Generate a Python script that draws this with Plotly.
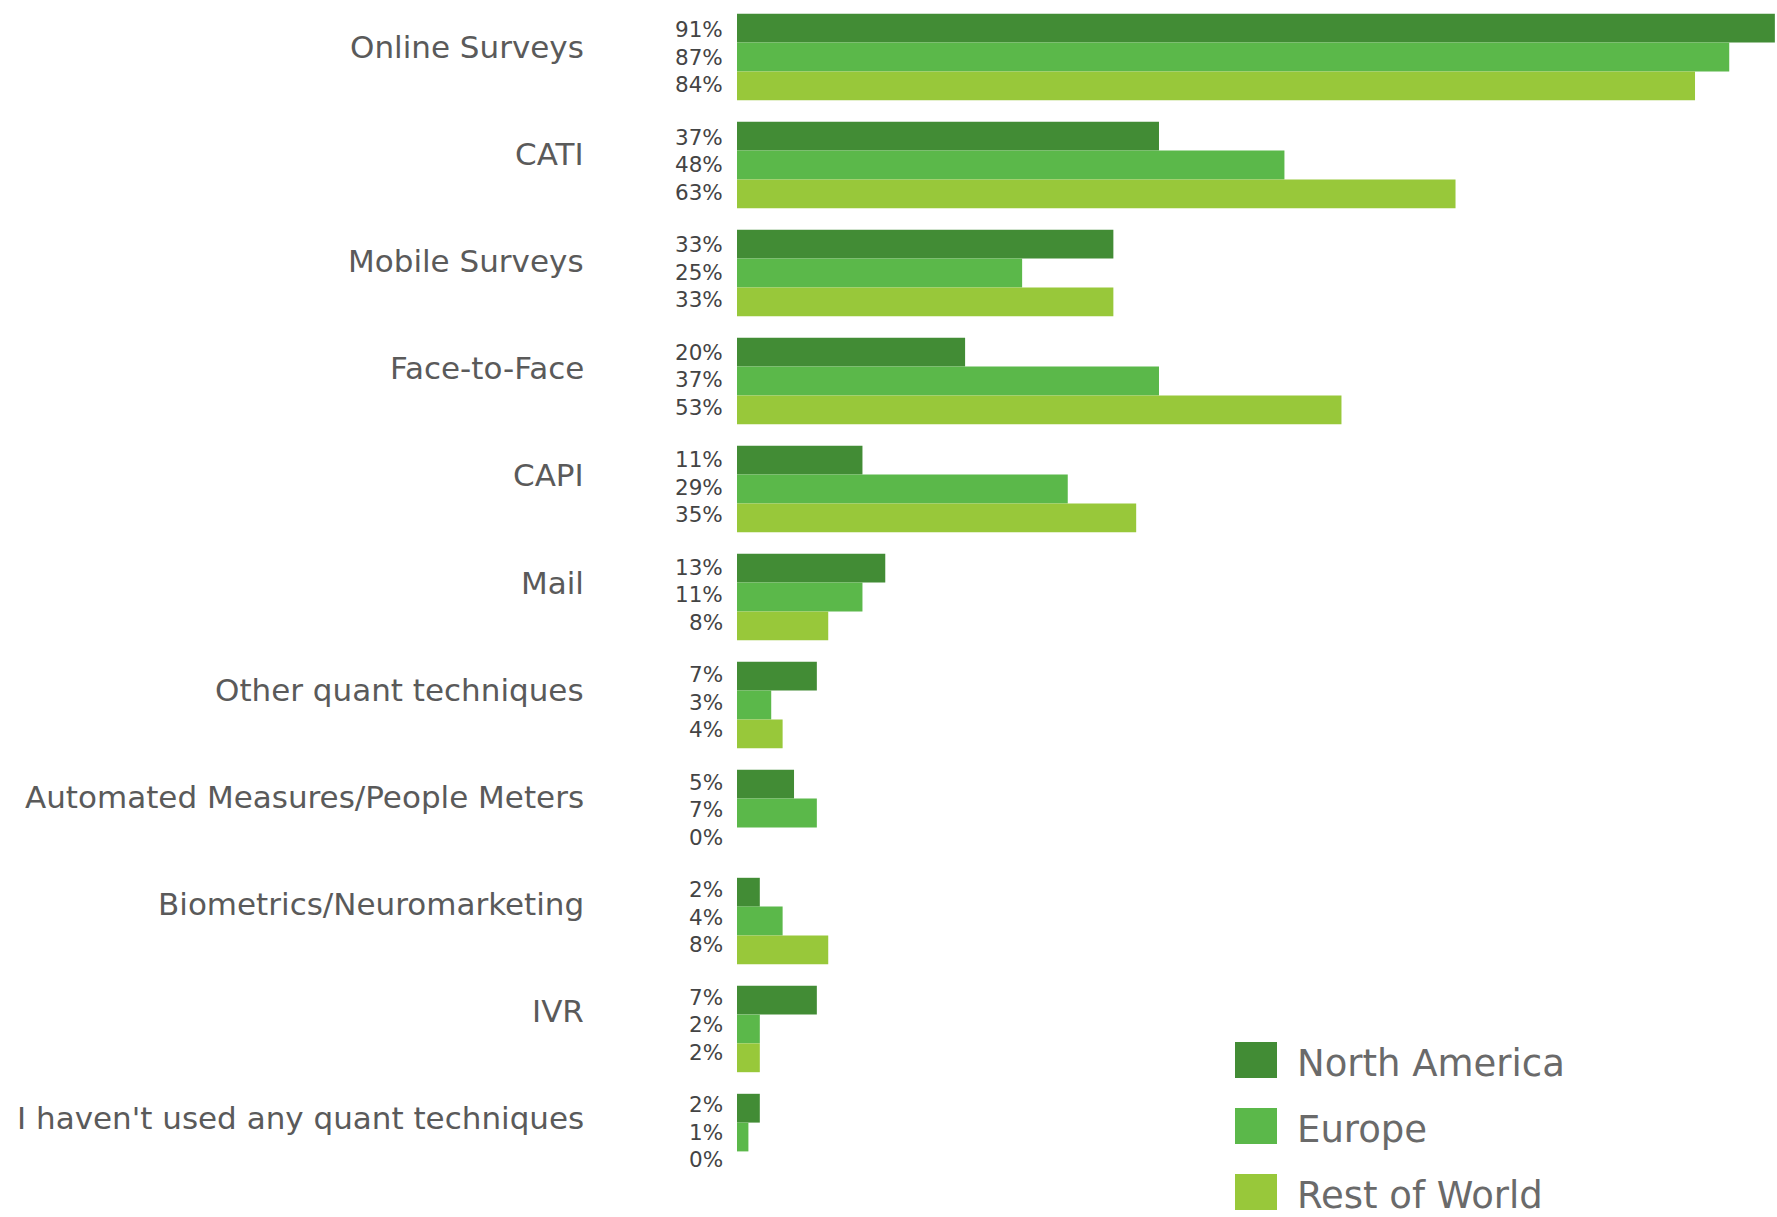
import plotly.graph_objects as go

# Survey data: share of respondents using each quantitative technique
categories = [
    "Online Surveys",
    "CATI",
    "Mobile Surveys",
    "Face-to-Face",
    "CAPI",
    "Mail",
    "Other quant techniques",
    "Automated Measures/People Meters",
    "Biometrics/Neuromarketing",
    "IVR",
    "I haven't used any quant techniques",
]
regions = ["North America", "Europe", "Rest of World"]
north_america = [91, 37, 33, 20, 11, 13, 7, 5, 2, 7, 2]
europe = [87, 48, 25, 37, 29, 11, 3, 7, 4, 2, 1]
rest_of_world = [84, 63, 33, 53, 35, 8, 4, 0, 8, 2, 0]

series = [north_america, europe, rest_of_world]
colors = ["#428c35", "#5bb84a", "#98c83a"]

W, H = 1777, 1217
M_L, M_R, M_T, M_B = 737, 1, 3, 26

fig = go.Figure()
for name, vals, col in zip(regions, series, colors):
    fig.add_trace(go.Bar(
        y=categories, x=vals, name=name, orientation="h",
        marker=dict(color=col, line=dict(width=0)),
        showlegend=False,
    ))

annotations = []
# category labels on the left
for i, cat in enumerate(categories):
    annotations.append(dict(
        x=0, xref="x", y=cat, yref="y", text=cat, showarrow=False,
        xanchor="right", yanchor="middle", xshift=-151, yshift=10 + 0.9 * i,
        font=dict(family="DejaVu Sans", size=31, color="#5a5a5a"),
    ))
# value labels beside the start of each bar
for k, vals in enumerate(series):
    for i, (cat, v) in enumerate(zip(categories, vals)):
        annotations.append(dict(
            x=0, xref="x", y=cat, yref="y", text=f"{v}%", showarrow=False,
            xanchor="right", yanchor="middle", xshift=-12,
            yshift=(1 - k) * 27.5 + 0.5 * i,
            font=dict(family="DejaVu Sans", size=21.5, color="#444444"),
        ))

# legend: swatches with region names
legend_x0, legend_y0, legend_step = 1235, 1042, 66
shapes = []
for k, (name, col) in enumerate(zip(regions, colors)):
    top = legend_y0 + k * legend_step
    shapes.append(dict(
        type="rect", xref="paper", yref="paper",
        x0=(legend_x0 - M_L) / (W - M_L - M_R),
        x1=(legend_x0 + 42 - M_L) / (W - M_L - M_R),
        y0=1 - (top - M_T) / (H - M_T - M_B),
        y1=1 - (top + 36 - M_T) / (H - M_T - M_B),
        fillcolor=col, line=dict(width=0),
    ))
    annotations.append(dict(
        xref="paper", yref="paper",
        x=(legend_x0 + 60 - M_L) / (W - M_L - M_R),
        y=1 - (top + 21 - M_T) / (H - M_T - M_B),
        text=name, showarrow=False, xanchor="left", yanchor="middle",
        font=dict(family="DejaVu Sans", size=37, color="#6a6a6a"),
    ))

fig.update_layout(
    width=W, height=H,
    margin=dict(l=M_L, r=M_R, t=M_T, b=M_B, autoexpand=False),
    barmode="group", bargap=0.2, bargroupgap=0,
    plot_bgcolor="white", paper_bgcolor="white",
    xaxis=dict(range=[0, 91.1], visible=False, fixedrange=True),
    yaxis=dict(autorange="reversed", categoryorder="array",
               categoryarray=categories, showticklabels=False,
               showgrid=False, zeroline=False, showline=False),
    annotations=annotations, shapes=shapes,
)

fig.write_html("out.html")
